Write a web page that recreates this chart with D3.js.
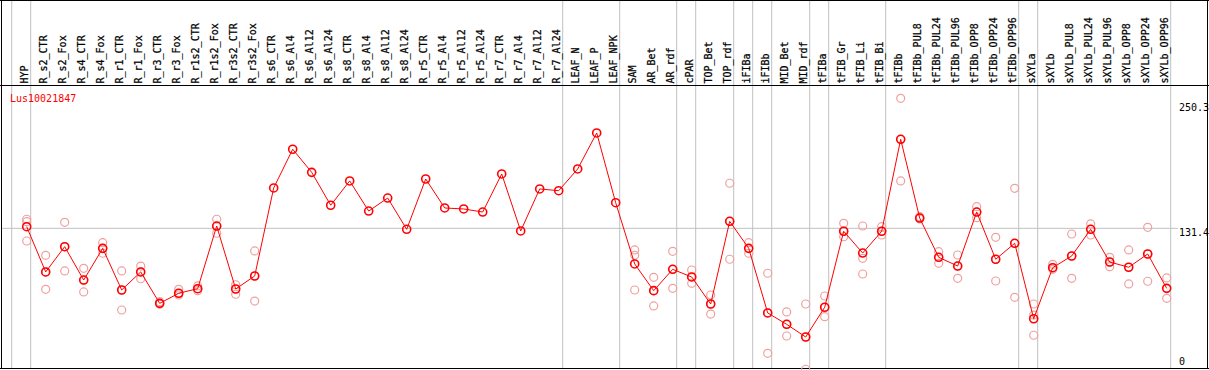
<!DOCTYPE html>
<html>
<head>
<meta charset="utf-8">
<script src="https://cdn.jsdelivr.net/npm/d3@7"></script>
<style>
  html, body { margin: 0; padding: 0; background: #fff; }
  svg { display: block; }
  text { font-family: "DejaVu Sans Mono", "Liberation Mono", monospace; font-size: 10px; }
</style>
</head>
<body>
<svg id="chart" width="1209" height="370"></svg>
<script>
const geneId = "Lus10021847";

const categories = [
  "HYP","R_s2_CTR","R_s2_Fox","R_s4_CTR","R_s4_Fox","R_r1_CTR","R_r1_Fox","R_r3_CTR","R_r3_Fox",
  "R_r1s2_CTR","R_r1s2_Fox","R_r3s2_CTR","R_r3s2_Fox","R_s6_CTR","R_s6_Al4","R_s6_Al12","R_s6_Al24",
  "R_s8_CTR","R_s8_Al4","R_s8_Al12","R_s8_Al24","R_r5_CTR","R_r5_Al4","R_r5_Al12","R_r5_Al24",
  "R_r7_CTR","R_r7_Al4","R_r7_Al12","R_r7_Al24","LEAF_N","LEAF_P","LEAF_NPK","SAM","AR_Bet","AR_rdf",
  "cPAR","TOP_Bet","TOP_rdf","iFIBa","iFIBb","MID_Bet","MID_rdf","tFIBa","tFIB_Gr","tFIB_Li","tFIB_Bi",
  "tFIBb","tFIBb_PUL8","tFIBb_PUL24","tFIBb_PUL96","tFIBb_OPP8","tFIBb_OPP24","tFIBb_OPP96",
  "sXYLa","sXYLb","sXYLb_PUL8","sXYLb_PUL24","sXYLb_PUL96","sXYLb_OPP8","sXYLb_OPP24","sXYLb_OPP96"
];

const means = [
  132.9, 91.5, 114.6, 84.1, 113.1, 75.0, 91.5, 62.8, 72.0,
  76.2, 133.5, 75.9, 87.8, 168.3, 203.7, 182.6, 152.5,
  174.7, 147.2, 159.1, 130.5, 176.5, 150.0, 149.1, 146.3,
  181.1, 129.0, 167.4, 165.8, 185.7, 218.6, 154.8, 98.8, 74.4, 93.9,
  86.9, 62.2, 137.8, 113.1, 54.0, 43.6, 32.0, 59.2, 128.7, 108.8, 128.7,
  212.8, 140.8, 104.9, 96.9, 146.3, 103.1, 117.7,
  48.7, 95.4, 106.1, 130.5, 100.6, 95.8, 107.9, 76.5
];

const replicates = [
  [139.7, 137.5, 119.8], [106.7, 75.6, 91.5], [136.9, 92.4, 114.6], [94.8, 73.2, 84.1], [118.3, 108.6, 113.1],
  [92.4, 56.7, 75.0], [96.9, 85.3, 91.5], [64.3, 62.8, 62.0], [75.6, 70.4, 72.0],
  [78.7, 74.4, 76.2], [139.7, 126.9, 133.5], [79.8, 71.1, 75.9], [110.7, 64.9, 87.8],
  [], [], [], [], [], [], [], [], [], [], [], [], [], [], [], [], [], [], [],
  [111.6, 106.7, 75.0], [86.6, 60.4, 74.4], [110.4, 76.5, 93.9],
  [93.3, 81.1, 86.9], [70.4, 53.0, 62.2], [172.6, 103.1, 137.8], [118.3, 108.6, 113.1], [90.3, 17.1, 54.0],
  [54.9, 32.9, 43.6], [62.2, 2.5, 32.0], [69.5, 50.6, 59.2], [136.0, 123.7, 128.7], [133.5, 104.0, 89.6],
  [132.9, 125.3, 128.7],
  [250.3, 174.7, 212.8], [142.0, 140.8, 140.0], [110.0, 99.4, 104.9], [107.0, 85.7, 96.9], [151.2, 141.1, 146.3],
  [123.2, 83.2, 103.1], [168.0, 68.3, 117.7],
  [62.2, 52.1, 33.6], [98.5, 93.9, 95.4], [126.2, 85.7, 106.1], [135.4, 125.3, 130.5], [104.9, 96.3, 100.6],
  [111.6, 80.5, 95.8], [132.3, 83.0, 107.9], [86.0, 67.4, 76.5]
];

const yTicks = [250.3, 131.4, 0];
const gridValues = [131.4];
// group separators: drawn right after these category indices (-1 = before the first)
const separators = [-1, 0, 28, 31, 34, 35, 37, 38, 39, 41, 42, 45, 52, 53, 60];

const W = 1209, H = 370;
const headerBottom = 85, plotBottom = 369, rightEdge = 1207.5;

const svg = d3.select("#chart");

const x = d3.scaleLinear().domain([0, categories.length - 1]).range([26.7, 1166.7]);
const y = d3.scaleLinear().domain([0, 250.3]).range([372, 98.3]);

// horizontal grid
svg.append("g").selectAll("line").data(gridValues).join("line")
  .attr("x1", 1).attr("x2", 1178)
  .attr("y1", d => y(d)).attr("y2", d => y(d))
  .attr("stroke", "#c0c0c0").attr("stroke-width", 1);

// vertical separators
svg.append("g").selectAll("line").data(separators).join("line")
  .attr("x1", d => x(d) + 4).attr("x2", d => x(d) + 4)
  .attr("y1", 0).attr("y2", plotBottom)
  .attr("stroke", "#c0c0c0").attr("stroke-width", 1);

// frame
svg.append("line").attr("x1", 0).attr("x2", W).attr("y1", 0.5).attr("y2", 0.5).attr("stroke", "#000");
svg.append("line").attr("x1", 0).attr("x2", W).attr("y1", headerBottom + 0.5).attr("y2", headerBottom + 0.5).attr("stroke", "#000");
svg.append("line").attr("x1", 0).attr("x2", W).attr("y1", plotBottom - 0.5).attr("y2", plotBottom - 0.5).attr("stroke", "#000");
svg.append("line").attr("x1", 1.5).attr("x2", 1.5).attr("y1", 0).attr("y2", plotBottom).attr("stroke", "#000");
svg.append("line").attr("x1", rightEdge).attr("x2", rightEdge).attr("y1", 0).attr("y2", plotBottom).attr("stroke", "#000");

// category labels (rotated)
svg.append("g").selectAll("text").data(categories).join("text")
  .attr("transform", (d, i) => `translate(${x(i) + 1.3},83.5) rotate(-90)`)
  .attr("text-anchor", "start")
  .attr("fill", "#000")
  .attr("stroke", "#000").attr("stroke-width", 0.25)
  .text(d => d);

// y tick labels
svg.append("g").selectAll("text").data(yTicks).join("text")
  .attr("x", 1179)
  .attr("y", d => Math.max(111, Math.min(365, y(d) + 8)))
  .attr("fill", "#000")
  .text(d => d);

// gene id
svg.append("text").attr("x", 10).attr("y", 101.5).attr("fill", "#ff0000").text(geneId);

// replicates
const repData = [];
replicates.forEach((arr, i) => arr.forEach(v => repData.push({ i, v })));
svg.append("g").selectAll("circle").data(repData).join("circle")
  .attr("cx", d => x(d.i)).attr("cy", d => y(d.v)).attr("r", 4)
  .attr("fill", "none").attr("stroke", "#f0a0a0").attr("stroke-width", 1.2);

// mean line
svg.append("path").datum(means)
  .attr("d", d3.line().x((d, i) => x(i)).y(d => y(d)))
  .attr("fill", "none").attr("stroke", "#ff0000").attr("stroke-width", 1);

// mean points
svg.append("g").selectAll("circle").data(means).join("circle")
  .attr("cx", (d, i) => x(i)).attr("cy", d => y(d)).attr("r", 4)
  .attr("fill", "none").attr("stroke", "#ff0000").attr("stroke-width", 1.6);
</script>
</body>
</html>
